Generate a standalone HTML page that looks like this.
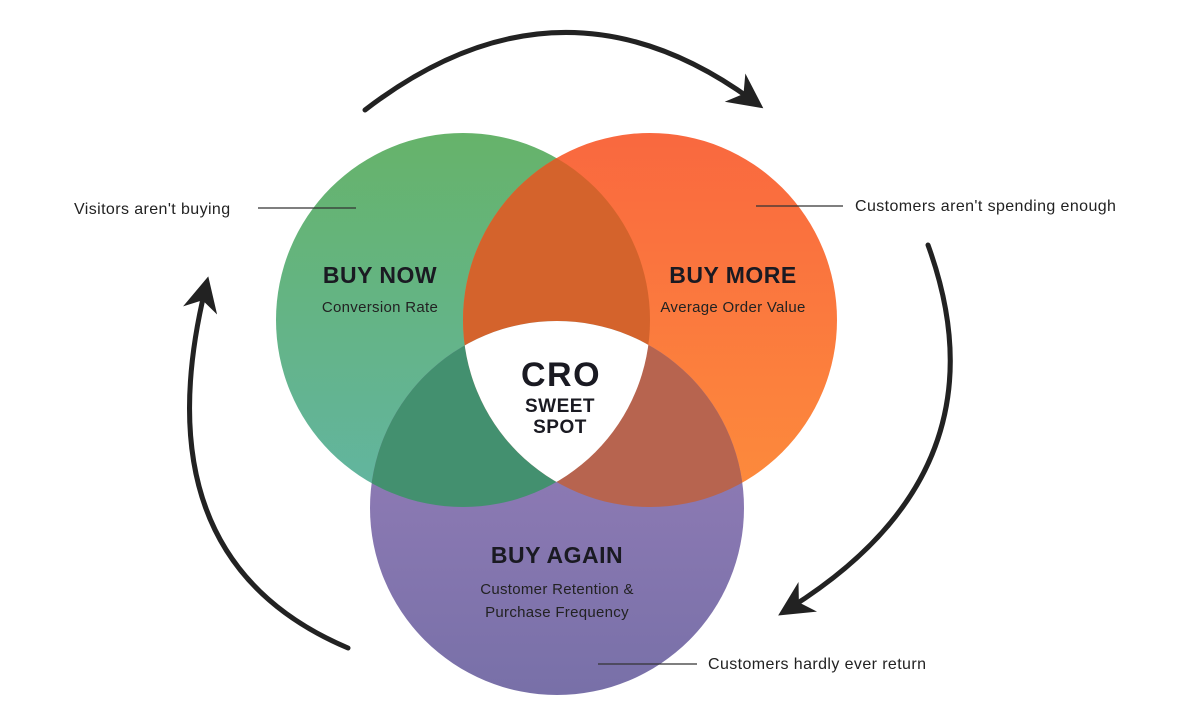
<!DOCTYPE html>
<html><head><style>
html,body{margin:0;padding:0;background:#fff;width:1200px;height:725px;overflow:hidden}
svg{display:block}
text{font-family:"Liberation Sans",sans-serif}
</style></head><body>
<svg width="1200" height="725" viewBox="0 0 1200 725">
<defs>
<linearGradient id="g" x1="0" y1="0" x2="0" y2="1"><stop offset="0" stop-color="#66b36a"/><stop offset="1" stop-color="#62b5a2"/></linearGradient>
<linearGradient id="o" x1="0" y1="0" x2="0" y2="1"><stop offset="0" stop-color="#f9683f"/><stop offset="1" stop-color="#fd8c3c"/></linearGradient>
<linearGradient id="p" x1="0" y1="0" x2="0" y2="1"><stop offset="0" stop-color="#9a80bb"/><stop offset="1" stop-color="#7870a8"/></linearGradient>
<clipPath id="cg"><circle cx="463" cy="320" r="187"/></clipPath>
<clipPath id="co"><circle cx="650" cy="320" r="187"/></clipPath>
<clipPath id="cp"><circle cx="557" cy="508" r="187"/></clipPath>
<marker id="ah" viewBox="0 0 10 10" refX="6" refY="5" markerWidth="7" markerHeight="7" orient="auto"><path d="M0,0 L10,5 L0,10 L3,5 Z" fill="#222"/></marker>
</defs>
<circle cx="463" cy="320" r="187" fill="url(#g)"/>
<circle cx="650" cy="320" r="187" fill="url(#o)"/>
<circle cx="557" cy="508" r="187" fill="url(#p)"/>
<circle cx="650" cy="320" r="187" fill="#d4632c" clip-path="url(#cg)"/>
<g clip-path="url(#cp)">
<circle cx="463" cy="320" r="187" fill="#43906f"/>
<circle cx="650" cy="320" r="187" fill="#b7644f"/>
</g>
<g clip-path="url(#cp)"><g clip-path="url(#co)"><circle cx="463" cy="320" r="187" fill="#fff"/></g></g>
<g fill="none" stroke="#222" stroke-width="5" stroke-linecap="round">
<path d="M365,110 Q560,-40 752,100" marker-end="url(#ah)"/>
<path d="M928,245 Q1010,470 790,608" marker-end="url(#ah)"/>
<path d="M348,648 Q140,560 205,290" marker-end="url(#ah)"/>
</g>
<g stroke="#333" stroke-width="1.2">
<line x1="258" y1="208" x2="356" y2="208"/>
<line x1="756" y1="206" x2="843" y2="206"/>
<line x1="598" y1="664" x2="697" y2="664"/>
</g>
<g fill="#222" font-size="16" letter-spacing="0.4">
<text x="74" y="214">Visitors aren't buying</text>
<text x="855" y="211">Customers aren't spending enough</text>
<text x="708" y="669">Customers hardly ever return</text>
</g>
<g fill="#1a1a22" font-weight="bold" text-anchor="middle">
<text x="380" y="283" font-size="23" letter-spacing="0.5">BUY NOW</text>
<text x="733" y="283" font-size="23" letter-spacing="0.5">BUY MORE</text>
<text x="557" y="563" font-size="23" letter-spacing="0.5">BUY AGAIN</text>
<text x="561" y="386" font-size="34" letter-spacing="1.5">CRO</text>
<text x="560" y="412" font-size="19" letter-spacing="0.5">SWEET</text>
<text x="560" y="433" font-size="19" letter-spacing="0.5">SPOT</text>
</g>
<g fill="#222" font-size="15" text-anchor="middle" letter-spacing="0.3">
<text x="380" y="312">Conversion Rate</text>
<text x="733" y="312">Average Order Value</text>
<text x="557" y="594">Customer Retention &amp;</text>
<text x="557" y="617">Purchase Frequency</text>
</g>
</svg>
</body></html>
